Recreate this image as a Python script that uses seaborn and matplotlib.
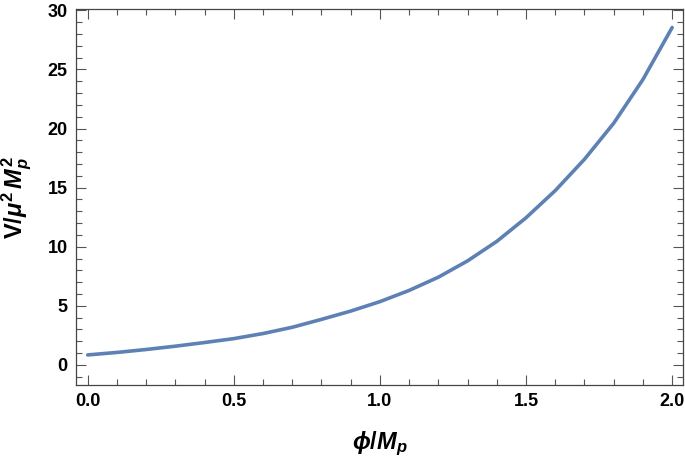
import numpy as np
import pandas as pd
import matplotlib
matplotlib.use("Agg")
import matplotlib.pyplot as plt
import seaborn as sns
from matplotlib.ticker import MultipleLocator, FormatStrFormatter

# значения
phi = [0.0, 0.1, 0.2, 0.3, 0.4, 0.5, 0.6, 0.7, 0.8, 0.9, 1.0,
       1.1, 1.2, 1.3, 1.4, 1.5, 1.6, 1.7, 1.8, 1.9, 2.0]
V = [0.84, 1.05, 1.30, 1.58, 1.89, 2.22, 2.65, 3.18, 3.85, 4.55, 5.35,
     6.30, 7.42, 8.80, 10.45, 12.45, 14.75, 17.40, 20.45, 24.15, 28.55]

sns.set_theme(style="ticks")
plt.rcParams['font.family'] = ['Liberation Sans', 'DejaVu Sans']
plt.rcParams['mathtext.fontset'] = 'custom'
plt.rcParams['mathtext.rm'] = 'Liberation Sans:bold'
plt.rcParams['mathtext.it'] = 'Liberation Sans:bold:italic'
plt.rcParams['mathtext.bf'] = 'Liberation Sans:bold'
plt.rcParams['text.color'] = 'black'
plt.rcParams['axes.labelcolor'] = 'black'
plt.rcParams['xtick.labelcolor'] = 'black'
plt.rcParams['ytick.labelcolor'] = 'black'

df = pd.DataFrame({'phi': phi, 'V': V})

fig = plt.figure(figsize=(6.85, 4.61), dpi=100)
ax = fig.add_axes([0.111, 0.165, 0.886, 0.815])
sns.lineplot(data=df, x='phi', y='V', ax=ax, color='#5E81B5', linewidth=2.6)

ax.set_xlim(-0.04, 2.037)
ax.set_ylim(-1.7, 30.1)
ax.xaxis.set_major_locator(MultipleLocator(0.5))
ax.xaxis.set_minor_locator(MultipleLocator(0.1))
ax.yaxis.set_major_locator(MultipleLocator(5))
ax.yaxis.set_minor_locator(MultipleLocator(1))
ax.xaxis.set_major_formatter(FormatStrFormatter('%.1f'))

ax.tick_params(which='both', direction='in', top=True, right=True,
               color='#555555', width=0.8)
ax.tick_params(which='major', length=7, labelsize=13, pad=6)
ax.tick_params(which='minor', length=4)
for lab in ax.get_xticklabels() + ax.get_yticklabels():
    lab.set_fontweight('bold')
for s in ax.spines.values():
    s.set_color('#444444')
    s.set_linewidth(0.9)

ax.set_xlabel(r'$\phi/M_p$', fontsize=17, labelpad=14)
ax.set_ylabel(r'$\mathrm{V}/\mu^2\,M_p^2$', fontsize=17, labelpad=10)

fig.savefig('out.png', dpi=100)
